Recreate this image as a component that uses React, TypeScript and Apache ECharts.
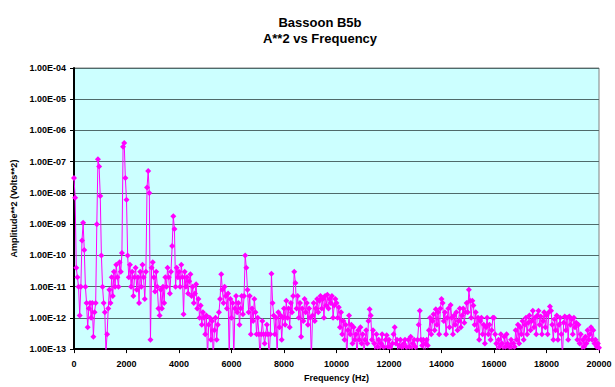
import React, { useEffect, useRef } from "react";
import * as echarts from "echarts";

// Frequency bins: 46 bins per 2000 Hz band
const binHz = 2000 / 46;

// Amplitude**2 (Volts**2), one array per 2000 Hz band
const band0 = [3e-8, 7e-9, 4e-11, 2e-11, 1e-11, 1.2e-12, 1e-11, 3e-10, 1.1e-9, 1.5e-10, 1e-11, 3e-12, 5e-13, 2e-12, 3e-12, 1e-12, 3e-12, 2.5e-13, 1.5e-12, 3e-12, 1e-9, 1.2e-7, 7e-8, 8e-9, 1e-10, 1e-11, 3e-12, 1.5e-12, 8e-14, 3e-13, 2e-12, 8e-12, 3e-12, 2e-11, 5e-12, 3e-11, 1e-11, 5e-11, 2e-11, 1e-11, 6e-11, 3e-11, 1.2e-10, 3e-7, 4e-7, 3e-8];
const band1 = [6e-9, 1e-10, 2e-11, 5e-11, 1e-11, 3e-11, 5e-12, 2e-11, 4e-11, 8e-12, 2e-11, 3e-12, 3e-11, 1e-11, 5e-11, 2e-11, 4e-12, 3e-11, 1.5e-8, 5e-8, 1e-8, 2e-13, 4e-11, 6e-11, 2e-11, 7e-12, 3e-11, 1e-11, 2e-12, 1.2e-12, 8e-12, 2e-12, 1e-11, 3e-12, 2e-11, 1e-11, 4e-11, 2e-11, 6e-12, 3e-11, 2e-10, 1.8e-9, 7e-10, 1e-11, 4e-11, 2e-11];
const band2 = [3e-11, 1e-11, 5e-11, 2e-11, 1.3e-12, 3e-11, 1e-11, 2e-11, 6e-12, 1.5e-11, 2.5e-11, 5e-12, 1e-11, 3e-12, 6e-12, 1.2e-11, 2e-12, 4e-12, 1e-12, 2.5e-12, 6e-13, 1.5e-12, 1e-12, 3e-13, 1.2e-12, 5e-14, 6e-13, 1e-12, 2e-13, 8e-13, 5e-14, 4e-13, 1e-12, 2e-13, 6e-13, 1.5e-12, 4e-12, 2.5e-11, 8e-12, 3e-12, 1e-11, 5e-12, 2e-12, 6e-12, 5e-14, 4e-12];
const band3 = [1e-12, 3e-12, 5e-14, 2e-12, 5e-12, 1.5e-12, 3e-12, 6e-13, 2e-12, 5e-12, 1.3e-12, 5e-12, 1e-10, 4e-11, 8e-12, 1.5e-12, 5e-12, 3e-13, 2e-12, 8e-13, 4e-12, 1.5e-12, 3e-13, 1e-12, 3e-13, 5e-14, 3e-13, 8e-13, 3e-13, 1.5e-13, 3e-13, 6e-13, 3e-13, 5e-14, 3e-13, 2.6e-11, 3e-12, 1.2e-12, 3e-13, 1e-12, 5e-14, 1.5e-12, 5e-13, 1.2e-12, 2e-13, 1e-12];
const band4 = [2e-12, 6e-13, 3.5e-12, 1e-12, 2e-12, 5e-13, 3e-12, 1.5e-12, 5e-12, 3e-11, 1.3e-11, 2e-12, 5e-12, 1e-12, 3e-12, 2.5e-13, 2e-12, 8e-13, 4e-12, 1.5e-12, 3e-12, 6e-13, 2e-12, 1e-12, 5e-14, 1.2e-12, 3e-12, 8e-13, 2e-12, 4e-12, 1.5e-12, 3.5e-12, 5e-12, 2e-12, 4e-12, 1e-12, 5e-12, 2.5e-12, 5.5e-12, 2e-12, 4e-12, 3e-12, 5e-12, 1e-12, 2.5e-12, 4e-12];
const band5 = [3e-12, 1e-12, 2.2e-12, 5e-13, 1.5e-12, 3e-13, 8e-13, 2e-13, 6e-13, 5e-14, 4e-13, 1.2e-12, 3e-13, 6e-13, 1.5e-13, 5e-13, 2e-13, 3e-13, 5e-14, 4e-13, 2e-13, 5e-13, 1.5e-13, 3e-13, 5e-14, 2e-13, 4e-13, 1.5e-13, 8e-13, 1.9e-12, 1.2e-12, 2e-13, 4e-13, 1.5e-13, 5e-14, 3e-13, 1.2e-13, 2e-13, 5e-14, 1.5e-13, 3e-13, 1.2e-13, 5e-14, 2e-13, 2.8e-13, 1.2e-13];
const band6 = [2e-13, 1.2e-13, 5e-14, 1.5e-13, 3e-13, 5e-13, 1.5e-13, 2e-13, 5e-14, 1.3e-13, 2e-13, 1.2e-13, 5e-14, 1.5e-13, 2e-13, 1.2e-13, 5e-14, 2e-13, 1.2e-13, 2.5e-13, 5e-14, 1.5e-13, 2e-13, 1.2e-13, 5e-14, 2e-13, 6e-13, 1.7e-12, 2e-13, 1.3e-13, 2e-13, 5e-14, 1.5e-13, 2e-13, 1.3e-13, 4e-13, 1e-12, 3e-13, 8e-13, 1.3e-12, 4e-13, 1.9e-12, 6e-13, 1.5e-12, 3e-13, 2e-12];
const band7 = [4e-12, 3e-12, 8e-13, 1.5e-12, 3e-13, 1e-12, 2e-12, 5e-13, 2.6e-12, 1e-12, 3e-13, 1.2e-12, 6e-13, 1.5e-12, 4e-13, 8e-13, 2e-12, 5e-13, 1.2e-12, 2e-12, 7e-13, 1.5e-12, 3e-12, 1.5e-12, 8e-12, 3.5e-12, 1e-12, 3.5e-12, 2.5e-12, 6e-13, 1.5e-12, 4e-13, 1e-12, 2e-13, 8e-13, 1e-12, 3e-13, 6e-13, 1.5e-13, 5e-13, 1e-12, 3e-13, 6e-13, 2e-13, 4e-13, 1e-12];
const band8 = [1e-12, 3e-13, 1.5e-13, 5e-14, 2e-13, 1.2e-13, 3e-13, 1.5e-13, 5e-14, 2.5e-13, 1.2e-13, 3e-13, 1.5e-13, 5e-14, 1.2e-13, 2e-13, 5e-14, 1.5e-13, 1.2e-13, 4e-13, 2e-13, 6e-13, 1.5e-13, 5e-13, 3e-13, 8e-13, 2e-13, 6e-13, 1e-12, 3e-13, 7e-13, 1.2e-12, 4e-13, 8e-13, 1.7e-12, 5e-13, 1e-12, 3e-13, 1.2e-12, 1.7e-12, 6e-13, 1.1e-12, 3e-13, 8e-13, 1.5e-12, 5e-13];
const band9 = [1.2e-12, 3e-13, 1.5e-12, 2.3e-12, 1.7e-12, 6e-13, 2e-13, 9e-13, 4e-13, 1.2e-12, 2e-13, 6e-13, 1e-12, 3e-13, 5e-14, 7e-13, 1.1e-12, 4e-13, 1e-12, 2e-13, 1.1e-12, 6e-13, 9e-13, 3e-13, 1e-12, 5e-13, 7e-13, 2e-13, 6e-13, 1.5e-13, 3e-13, 5e-14, 2e-13, 1.2e-13, 2.5e-13, 1.5e-13, 4e-13, 2e-13, 3e-13, 5e-13, 2e-13, 4e-13, 1.5e-13, 2e-13, 1.2e-13, 1.5e-13];
const lastValue = [1.1e-13]; // at 20000 Hz

const xTicks = [0, 2000, 4000, 6000, 8000, 10000, 12000, 14000, 16000, 18000, 20000];
const yMin = 1e-13;
const yMax = 1e-4;

const FONT = "'Liberation Sans', Arial, Helvetica, sans-serif";

export default function App() {
  const ref = useRef<HTMLDivElement>(null);

  useEffect(() => {
    if (!ref.current) return;
    const chart = echarts.init(ref.current, undefined, { renderer: "svg" });
    const amplitude = [
      ...band0, ...band1, ...band2, ...band3, ...band4,
      ...band5, ...band6, ...band7, ...band8, ...band9, ...lastValue,
    ];
    const data = amplitude.map((v, i) => [i * binHz, v]);

    const fmtY = (v: number) => {
      const e = Math.round(Math.log10(v));
      const sign = e < 0 ? "-" : "+";
      return `1.00E${sign}${String(Math.abs(e)).padStart(2, "0")}`;
    };

    chart.setOption({
      animation: false,
      backgroundColor: "#ffffff",
      title: {
        text: "Bassoon B5b\nA**2 vs Frequency",
        left: 315,
        textAlign: "center",
        top: 9,
        textStyle: {
          fontFamily: FONT,
          fontSize: 13,
          fontWeight: "bold",
          color: "#000",
          lineHeight: 16,
        },
      },
      grid: {
        left: 74,
        right: 16,
        top: 68,
        bottom: 33,
        show: true,
        backgroundColor: "#CCFFFF",
        borderColor: "#808080",
        borderWidth: 1,
      },
      xAxis: {
        type: "value",
        min: xTicks[0],
        max: xTicks[xTicks.length - 1],
        interval: 2000,
        name: "Frequency (Hz)",
        nameLocation: "middle",
        nameGap: 23,
        nameTextStyle: { fontFamily: FONT, fontSize: 9, fontWeight: "bold", color: "#000" },
        axisLine: { show: true, onZero: false, lineStyle: { color: "#000", width: 2 } },
        axisTick: { show: true, length: 4, lineStyle: { color: "#000", width: 1 } },
        axisLabel: {
          fontFamily: FONT,
          fontSize: 9,
          fontWeight: "bold",
          color: "#000",
          margin: 10,
          formatter: (v: number) => String(v),
        },
        splitLine: { show: false },
      },
      yAxis: {
        type: "log",
        logBase: 10,
        min: yMin,
        max: yMax,
        splitNumber: 9,
        name: "Amplitude**2 (Volts**2)",
        nameLocation: "middle",
        nameGap: 44,
        nameTextStyle: { fontFamily: FONT, fontSize: 9, fontWeight: "bold", color: "#000" },
        axisLine: { show: true, lineStyle: { color: "#000", width: 2 } },
        axisTick: { show: true, length: 4, lineStyle: { color: "#000", width: 1 } },
        axisLabel: {
          fontFamily: FONT,
          fontSize: 9,
          fontWeight: "bold",
          color: "#000",
          margin: 8,
          formatter: fmtY,
        },
        splitLine: { show: true, lineStyle: { color: "#4f6a6a", width: 1 } },
        minorTick: { show: false },
      },
      series: [
        {
          type: "line",
          data,
          clip: true,
          symbol: "diamond",
          symbolSize: 6,
          showSymbol: true,
          lineStyle: { color: "#FF00FF", width: 1 },
          itemStyle: { color: "#FF00FF" },
        },
      ],
    });
    return () => chart.dispose();
  }, []);

  return (
    <div
      ref={ref}
      style={{ position: "fixed", left: 0, top: 0, width: 615, height: 387 }}
    />
  );
}
